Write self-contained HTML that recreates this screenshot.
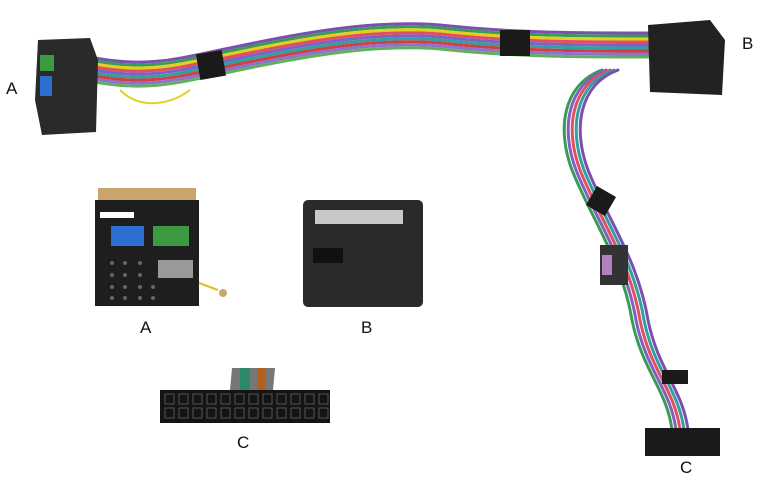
<!DOCTYPE html>
<html><head><meta charset="utf-8"><style>
html,body{margin:0;padding:0;background:#fff;width:760px;height:480px;overflow:hidden}
svg{display:block}
text{font-family:"Liberation Sans",sans-serif;font-size:17px;fill:#111}
</style></head><body>
<svg width="760" height="480" viewBox="0 0 760 480" xmlns="http://www.w3.org/2000/svg">
<defs>
<path id="w1" d="M95 70 C150 80 180 70 230 60 C300 45 380 30 450 38 C520 45 580 45 650 45"/>
<path id="w2" d="M610 70 C570 85 565 130 580 170 C600 220 630 260 640 320 C650 370 675 390 680 430"/>
</defs>
<!-- main bundle -->
<g fill="none" stroke-width="3" stroke-linecap="round">
<use href="#w1" stroke="#7a4fb0" transform="translate(0,-12)"/>
<use href="#w1" stroke="#3a9a5a" transform="translate(0,-9)"/>
<use href="#w1" stroke="#e0d020" transform="translate(0,-6)"/>
<use href="#w1" stroke="#e05060" transform="translate(0,-3)"/>
<use href="#w1" stroke="#8060c0" transform="translate(0,0)"/>
<use href="#w1" stroke="#30a0a0" transform="translate(0,3)"/>
<use href="#w1" stroke="#d04040" transform="translate(0,6)"/>
<use href="#w1" stroke="#9070d0" transform="translate(0,9)"/>
<use href="#w1" stroke="#60b060" transform="translate(0,12)"/>
</g>
<g fill="none" stroke-width="3" stroke-linecap="round">
<use href="#w2" stroke="#3a9a5a" transform="translate(-8,0)"/>
<use href="#w2" stroke="#8060c0" transform="translate(-4,0)"/>
<use href="#w2" stroke="#e05060" transform="translate(0,0)"/>
<use href="#w2" stroke="#30a0a0" transform="translate(4,0)"/>
<use href="#w2" stroke="#7a4fb0" transform="translate(8,0)"/>
</g>
<path d="M120 90 C140 110 170 105 190 90" stroke="#e0d020" stroke-width="2" fill="none"/>
<!-- tape -->
<g fill="#1a1a1a">
<rect x="198" y="52" width="26" height="26" transform="rotate(-10 211 65)"/>
<rect x="500" y="30" width="30" height="26"/>
<rect x="590" y="190" width="22" height="22" transform="rotate(30 601 201)"/>
<rect x="662" y="370" width="26" height="14"/>
</g>
<rect x="600" y="245" width="28" height="40" fill="#333"/>
<rect x="602" y="255" width="10" height="20" fill="#b080c0"/>
<!-- connector A -->
<path d="M38 40 L90 38 L98 60 L96 132 L42 135 L35 100 Z" fill="#2a2a2a"/>
<rect x="40" y="55" width="14" height="16" fill="#3c9a40"/>
<rect x="40" y="76" width="12" height="20" fill="#2d6fd0"/>
<!-- connector B -->
<path d="M648 25 L710 20 L725 40 L722 95 L650 92 Z" fill="#222"/>
<!-- connector C -->
<rect x="645" y="428" width="75" height="28" fill="#1a1a1a"/>
<text x="6" y="94">A</text>
<text x="742" y="49">B</text>
<text x="680" y="473">C</text>
<!-- front A -->
<rect x="95" y="200" width="104" height="106" fill="#1e1e1e"/>
<rect x="98" y="188" width="98" height="12" fill="#c9a56a"/>
<rect x="111" y="226" width="33" height="20" fill="#2d6fd0"/>
<rect x="153" y="226" width="36" height="20" fill="#3c9a40"/>
<rect x="158" y="260" width="35" height="18" fill="#9a9a9a"/>
<rect x="100" y="212" width="34" height="6" fill="#fff"/>
<path d="M199 283 L218 290" stroke="#e0c020" stroke-width="2"/>
<circle cx="223" cy="293" r="4" fill="#caa870"/>
<g fill="#666">
<circle cx="112" cy="263" r="2"/><circle cx="125" cy="263" r="2"/><circle cx="140" cy="263" r="2"/>
<circle cx="112" cy="275" r="2"/><circle cx="125" cy="275" r="2"/><circle cx="140" cy="275" r="2"/>
<circle cx="112" cy="287" r="2"/><circle cx="125" cy="287" r="2"/><circle cx="140" cy="287" r="2"/><circle cx="153" cy="287" r="2"/>
<circle cx="112" cy="298" r="2"/><circle cx="125" cy="298" r="2"/><circle cx="140" cy="298" r="2"/><circle cx="153" cy="298" r="2"/>
</g>
<text x="140" y="333">A</text>
<!-- front B -->
<rect x="303" y="200" width="120" height="107" rx="5" fill="#2a2a2a"/>
<rect x="315" y="210" width="88" height="14" fill="#c8c8c8"/>
<rect x="313" y="248" width="30" height="15" fill="#111"/>
<text x="361" y="333">B</text>
<!-- front C -->
<path d="M230 390 L232 368 L275 368 L273 390 Z" fill="#777"/>
<rect x="240" y="368" width="10" height="22" fill="#2a8a6a"/>
<rect x="258" y="368" width="8" height="22" fill="#b06020"/>
<rect x="160" y="390" width="170" height="33" fill="#141414"/>
<g fill="none" stroke="#555" stroke-width="1">
<rect x="165" y="394" width="9" height="10"/><rect x="179" y="394" width="9" height="10"/><rect x="193" y="394" width="9" height="10"/><rect x="207" y="394" width="9" height="10"/><rect x="221" y="394" width="9" height="10"/><rect x="235" y="394" width="9" height="10"/><rect x="249" y="394" width="9" height="10"/><rect x="263" y="394" width="9" height="10"/><rect x="277" y="394" width="9" height="10"/><rect x="291" y="394" width="9" height="10"/><rect x="305" y="394" width="9" height="10"/><rect x="319" y="394" width="9" height="10"/>
<rect x="165" y="408" width="9" height="10"/><rect x="179" y="408" width="9" height="10"/><rect x="193" y="408" width="9" height="10"/><rect x="207" y="408" width="9" height="10"/><rect x="221" y="408" width="9" height="10"/><rect x="235" y="408" width="9" height="10"/><rect x="249" y="408" width="9" height="10"/><rect x="263" y="408" width="9" height="10"/><rect x="277" y="408" width="9" height="10"/><rect x="291" y="408" width="9" height="10"/><rect x="305" y="408" width="9" height="10"/><rect x="319" y="408" width="9" height="10"/>
</g>
<text x="237" y="448">C</text>
</svg>
</body></html>
